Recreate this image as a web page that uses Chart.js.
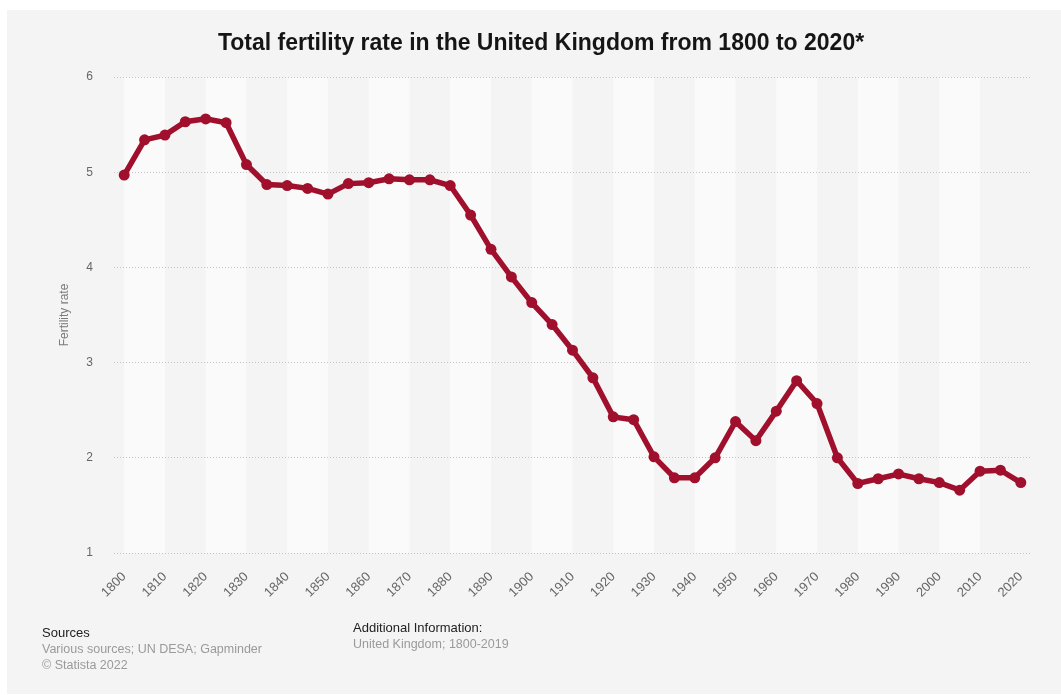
<!DOCTYPE html>
<html>
<head>
<meta charset="utf-8">
<title>Total fertility rate in the United Kingdom</title>
<script src="https://cdn.jsdelivr.net/npm/chart.js@4.4.0/dist/chart.umd.min.js"></script>
<style>
	html, body { margin: 0; padding: 0; background: #fff; }
	#wrap { position: relative; width: 1061px; height: 695px; overflow: hidden; }
	#bg { position: absolute; left: 7px; top: 10px; right: 0; bottom: 1px; background: #f4f4f4; }
	#chart { position: absolute; left: 0; top: 0; }
	.note { position: absolute; font-family: "Liberation Sans", Arial, sans-serif; font-size: 12.5px; line-height: 16px; color: #9a9a9a; white-space: nowrap; }
	.note .head { color: #222; font-size: 13px; }
</style>
</head>
<body>
<div id="wrap">
	<div id="bg"></div>
	<canvas id="chart" width="1061" height="695"></canvas>
	<div class="note" style="left:42px; top:625px;">
		<div class="head">Sources</div>
		<div>Various sources; UN DESA; Gapminder</div>
		<div>© Statista 2022</div>
	</div>
	<div class="note" style="left:353px; top:620px;">
		<div class="head">Additional Information:</div>
		<div>United Kingdom; 1800-2019</div>
	</div>
</div>
<script>
var years = [
	1800, 1805, 1810, 1815, 1820, 1825, 1830, 1835, 1840, 1845,
	1850, 1855, 1860, 1865, 1870, 1875, 1880, 1885, 1890, 1895,
	1900, 1905, 1910, 1915, 1920, 1925, 1930, 1935, 1940, 1945,
	1950, 1955, 1960, 1965, 1970, 1975, 1980, 1985, 1990, 1995,
	2000, 2005, 2010, 2015, 2020
];
var fertilityRate = [
	4.97, 5.34, 5.39, 5.53, 5.56, 5.52, 5.08, 4.87, 4.86, 4.83,
	4.77, 4.88, 4.89, 4.93, 4.92, 4.92, 4.86, 4.55, 4.19, 3.90,
	3.63, 3.40, 3.13, 2.84, 2.43, 2.40, 2.01, 1.79, 1.79, 2.00,
	2.38, 2.18, 2.49, 2.81, 2.57, 2.00, 1.73, 1.78, 1.83, 1.78,
	1.74, 1.66, 1.86, 1.87, 1.74
];
var xTickYears = [
	1800, 1810, 1820, 1830, 1840, 1850, 1860, 1870, 1880, 1890,
	1900, 1910, 1920, 1930, 1940, 1950, 1960, 1970, 1980, 1990,
	2000, 2010, 2020
];
var yTicks = [1, 2, 3, 4, 5, 6];
// lighter decade stripes behind the line (start years)
var bandStarts = [1800, 1820, 1840, 1860, 1880, 1900, 1920, 1940, 1960, 1980, 2000];

var FONT = '"Liberation Sans", Arial, sans-serif';
var RED = '#a0102d';

var decadeBands = {
	id: 'decadeBands',
	beforeDraw: function(chart) {
		var ctx = chart.ctx;
		var x = chart.scales.x;
		var area = chart.chartArea;
		ctx.save();
		ctx.fillStyle = '#fafafa';
		bandStarts.forEach(function(start) {
			var x0 = x.getPixelForValue(start);
			var x1 = x.getPixelForValue(start + 10);
			ctx.fillRect(x0, area.top, x1 - x0, area.bottom - area.top);
		});
		ctx.restore();
	}
};

var points = years.map(function(yr, i) {
	return {x: yr, y: fertilityRate[i]};
});

new Chart(document.getElementById('chart'), {
	type: 'line',
	data: {
		datasets: [{
			data: points,
			borderColor: RED,
			backgroundColor: RED,
			borderWidth: 5.5,
			pointRadius: 5.5,
			pointBorderWidth: 0,
			pointBackgroundColor: RED,
			tension: 0,
			fill: false
		}]
	},
	options: {
		responsive: false,
		animation: false,
		events: [],
		// left padding pushes the centred title to the right; y axis box makes up the rest
		layout: {padding: {left: 51, right: 30, top: 0, bottom: 0}},
		plugins: {
			legend: {display: false},
			tooltip: {enabled: false},
			title: {
				display: true,
				text: 'Total fertility rate in the United Kingdom from 1800 to 2020*',
				color: '#151515',
				font: {family: FONT, size: 23, weight: 'bold', lineHeight: 1.2},
				padding: {top: 30, bottom: 19.4}
			}
		},
		scales: {
			x: {
				type: 'linear',
				min: 1797.5,
				max: 2022.5,
				afterBuildTicks: function(scale) {
					scale.ticks = xTickYears.map(function(v) { return {value: v}; });
				},
				afterFit: function(scale) {
					scale.height = 142;
				},
				grid: {display: false, drawTicks: false},
				border: {display: false},
				ticks: {
					autoSkip: false,
					maxRotation: 45,
					minRotation: 45,
					padding: 16,
					color: '#666',
					font: {family: FONT, size: 13},
					callback: function(v) { return String(v); }
				}
			},
			y: {
				min: 1,
				max: 6,
				afterBuildTicks: function(scale) {
					scale.ticks = yTicks.map(function(v) { return {value: v}; });
				},
				afterFit: function(scale) {
					scale.width = 63;
				},
				grid: {color: '#c4c4c4', lineWidth: 1, drawTicks: false},
				border: {display: false, dash: [1, 2]},
				ticks: {
					padding: 21,
					color: '#666',
					font: {family: FONT, size: 12}
				},
				title: {
					display: true,
					text: 'Fertility rate',
					color: '#7a7a7a',
					font: {family: FONT, size: 12},
					padding: {top: 6.8, bottom: 0}
				}
			}
		}
	},
	plugins: [decadeBands]
});
</script>
</body>
</html>
